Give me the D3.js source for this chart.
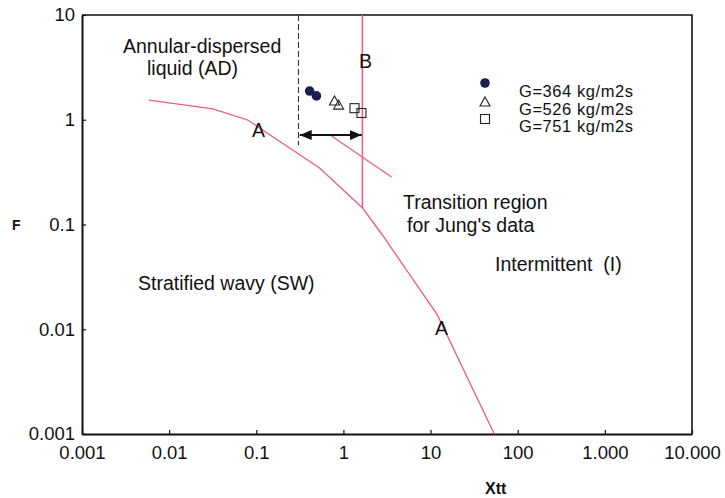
<!DOCTYPE html>
<html>
<head>
<meta charset="UTF-8">
<title></title>
<script src="https://d3js.org/d3.v7.min.js"></script>
<style>
  body { margin: 0; background: #fff; }
  text { font-family: "Liberation Sans", Arial, sans-serif; fill: #111; }
</style>
</head>
<body>
<div id="svg"></div>
<script>
// ---- data ----
const xTicks = [0.001, 0.01, 0.1, 1, 10, 100, 1000, 10000];
const xTickLabels = ["0.001", "0.01", "0.1", "1", "10", "100", "1.000", "10.000"];
const yTicks = [0.001, 0.01, 0.1, 1, 10];
const yTickLabels = ["0.001", "0.01", "0.1", "1", "10"];

// boundary A (Xtt, F)
const curveAX = [0.00586, 0.0317, 0.0797, 0.532, 1.66, 2.80, 11.97, 53.8];
const curveAY = [1.54, 1.27, 0.995, 0.346, 0.1437, 0.0794, 0.0137, 0.001];
// Jung transition line
const transX = [0.731, 3.56];
const transY = [0.70, 0.284];
// boundary B (vertical)
const lineBX = [1.65, 1.65];
const lineBY = [10, 0.1437];
// dashed AD limit
const dashX = [0.305, 0.305];
const dashY = [10, 0.574];
// double arrow
const arrowX = [0.315, 1.62];
const arrowY = [0.715, 0.715];

const seriesNames = ["G=364 kg/m2s", "G=526 kg/m2s", "G=751 kg/m2s"];
const seriesX = [[0.41, 0.49], [0.79, 0.88], [1.34, 1.61]];
const seriesY = [[1.88, 1.69], [1.51, 1.38], [1.29, 1.16]];

// ---- layout ----
const width = 725, height = 498;
const margin = {top: 15, left: 82, right: 33, bottom: 64};
const svg = d3.select("#svg").append("svg").attr("width", width).attr("height", height);

const x = d3.scaleLog().domain([0.001, 10000]).range([margin.left, width - margin.right]);
const y = d3.scaleLog().domain([0.001, 10]).range([height - margin.bottom, margin.top]);

const pink = "#ef5b7b";
const navy = "#1b1f50";

// axes (ticks pointing inside)
const gX = svg.append("g").attr("transform", `translate(0,${y(0.001)})`)
  .call(d3.axisBottom(x).tickValues(xTicks).tickFormat((d, i) => xTickLabels[i]).tickSizeInner(-4).tickSizeOuter(0).tickPadding(12));
const gY = svg.append("g").attr("transform", `translate(${x(0.001)},0)`)
  .call(d3.axisLeft(y).tickValues(yTicks).tickFormat((d, i) => yTickLabels[i]).tickSizeInner(-4).tickSizeOuter(0).tickPadding(7));
[gX, gY].forEach(g => {
  g.select(".domain").attr("stroke", "#111").attr("stroke-width", 2);
  g.selectAll(".tick line").attr("stroke", "#111").attr("stroke-width", 1.2);
  g.selectAll("text").attr("font-size", "18.5px").attr("font-family", "Liberation Sans, Arial, sans-serif").attr("fill", "#111");
});

// top and right frame
svg.append("path")
  .attr("d", `M${x(0.001)},${y(10)}H${x(10000)}V${y(0.001)}`)
  .attr("fill", "none").attr("stroke", "#111").attr("stroke-width", 1.6);

const line = d3.line().x(d => x(d[0])).y(d => y(d[1]));
const zip = (a, b) => a.map((v, i) => [v, b[i]]);

svg.append("path").datum(zip(curveAX, curveAY)).attr("d", line)
  .attr("fill", "none").attr("stroke", pink).attr("stroke-width", 1.3);
svg.append("path").datum(zip(transX, transY)).attr("d", line)
  .attr("fill", "none").attr("stroke", pink).attr("stroke-width", 1.3);
svg.append("path").datum(zip(lineBX, lineBY)).attr("d", line)
  .attr("fill", "none").attr("stroke", pink).attr("stroke-width", 1.5);
svg.append("path").datum(zip(dashX, dashY)).attr("d", line)
  .attr("fill", "none").attr("stroke", "#333").attr("stroke-width", 1.1).attr("stroke-dasharray", "6,3");

// double arrow
const defs = svg.append("defs");
["start", "end"].forEach(k => {
  defs.append("marker").attr("id", "arr-" + k)
    .attr("viewBox", "0 0 12 10").attr("refX", k === "end" ? 12 : 0).attr("refY", 5)
    .attr("markerWidth", 12).attr("markerHeight", 10).attr("markerUnits", "userSpaceOnUse")
    .attr("orient", "auto")
    .append("path").attr("d", k === "end" ? "M0,0L12,5L0,10Z" : "M12,0L0,5L12,10Z").attr("fill", "#111");
});
svg.append("path").datum(zip(arrowX, arrowY)).attr("d", line)
  .attr("stroke", "#111").attr("stroke-width", 2)
  .attr("marker-start", "url(#arr-start)").attr("marker-end", "url(#arr-end)");

// data points
const symbols = [
  g => g.append("circle").attr("r", 4.8).attr("fill", navy),
  g => g.append("path").attr("d", "M0,-5L5,4L-5,4Z").attr("fill", "none").attr("stroke", "#222").attr("stroke-width", 1.1),
  g => g.append("rect").attr("x", -4.5).attr("y", -4.5).attr("width", 9).attr("height", 9).attr("fill", "none").attr("stroke", "#222").attr("stroke-width", 1.1)
];
seriesX.forEach((xs, s) => {
  xs.forEach((xv, i) => {
    const g = svg.append("g").attr("transform", `translate(${x(xv)},${y(seriesY[s][i])})`);
    symbols[s](g);
  });
});

// legend
const legend = svg.append("g").attr("transform", "translate(485,83)");
seriesNames.forEach((name, i) => {
  const g = legend.append("g").attr("transform", `translate(0,${[0, 19, 36][i]})`);
  symbols[i](g);
  legend.append("text").attr("x", 34).attr("y", [14, 32, 49][i])
    .attr("font-size", "16.5px").attr("textLength", 114).text(name);
});

// region labels
const labels = [
  ["Annular-dispersed", 123, 53],
  ["liquid (AD)", 147, 75],
  ["B", 359, 68],
  ["A", 252, 137],
  ["A", 435, 335],
  ["Transition region", 403, 209],
  ["for Jung's data", 407, 232],
  ["Intermittent  (I)", 495, 271],
  ["Stratified wavy (SW)", 138, 290]
];
svg.selectAll(".lbl").data(labels).enter().append("text").attr("class", "lbl")
  .attr("x", d => d[1]).attr("y", d => d[2])
  .attr("font-size", "19.5px").style("white-space", "pre").text(d => d[0]);

svg.append("text").attr("x", 12).attr("y", 230).attr("font-size", "14px").attr("font-weight", "bold").text("F");
svg.append("text").attr("x", 485).attr("y", 494).attr("font-size", "16px").attr("font-weight", "bold").text("Xtt");
</script>
</body>
</html>
